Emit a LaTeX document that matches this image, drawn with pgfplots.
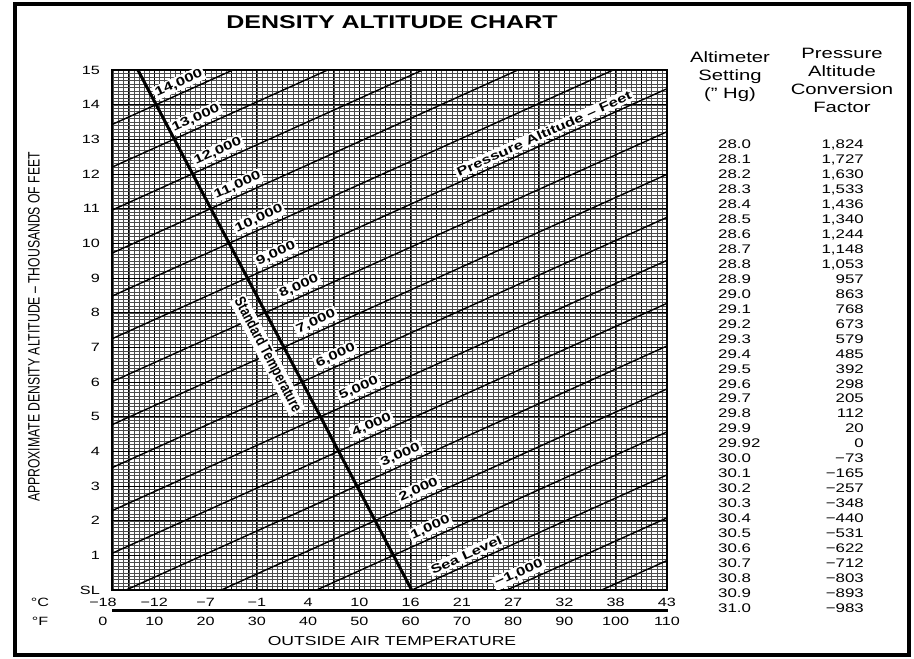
\documentclass[border=0pt]{standalone}
\usepackage{pgfplots}
\pgfplotsset{compat=1.18}
\usepackage{graphicx}
\usepackage{fontspec}
\setmainfont{Liberation Sans}[FakeStretch=1.35]
\newfontfamily\plainsans{Liberation Sans}
\tikzset{
  lbl/.style={sloped, above=2.5pt, fill=white, inner sep=1.8pt, font=\bfseries\fontsize{12.3}{13}\selectfont},
  pal/.style={black, line width=1.4pt},
}
\begin{document}
\begin{tikzpicture}[x=1pt,y=1pt]
\path[use as bounding box] (0,0) rectangle (914,659);
\draw[line width=4pt] (15,4) rectangle (909,655);
\node[font=\bfseries\fontsize{18.5}{20}\selectfont] at (392,637) {DENSITY ALTITUDE CHART};
\begin{axis}[
  at={(112pt,69pt)}, anchor=south west, scale only axis,
  width=555pt, height=520pt,
  xmin=1.75, xmax=110, ymin=0, ymax=15,
  xtick={5,10,...,105}, xticklabels={},
  minor xtick={2,3,...,109},
  ytick={0,1,...,15},
  yticklabels={SL,1,2,3,4,5,6,7,8,9,10,11,12,13,14,15},
  minor ytick={0.1,0.2,...,14.95},
  grid=both,
  major grid style={black,line width=0.75pt},
  minor grid style={black!70,line width=0.25pt},
  axis line style={line width=1.3pt},
  major tick length=0pt, minor tick length=0pt,
  yticklabel style={font=\fontsize{12}{14}\selectfont, anchor=east, inner sep=0pt, xshift=-12pt},
  clip mode=individual,
]
\addplot[pal, no marks] coordinates {(0,-6.49) (110,0.85)};
\addplot[pal, no marks] coordinates {(0,-5.25) (110,2.08)} node[lbl,pos=0.745] {−1,000};
\addplot[pal, no marks] coordinates {(0,-4.02) (110,3.32)} node[lbl,pos=0.651] {Sea Level};
\addplot[pal, no marks] coordinates {(0,-2.78) (110,4.56)} node[lbl,pos=0.588] {1,000};
\addplot[pal, no marks] coordinates {(0,-1.54) (110,5.80)} node[lbl,pos=0.567] {2,000};
\addplot[pal, no marks] coordinates {(0,-0.30) (110,7.04)} node[lbl,pos=0.535] {3,000};
\addplot[pal, no marks] coordinates {(0,0.94) (110,8.27)} node[lbl,pos=0.484] {4,000};
\addplot[pal, no marks] coordinates {(0,2.17) (110,9.51)} node[lbl,pos=0.461] {5,000};
\addplot[pal, no marks] coordinates {(0,3.41) (110,10.75)} node[lbl,pos=0.420] {6,000};
\addplot[pal, no marks] coordinates {(0,4.65) (110,11.99)} node[lbl,pos=0.385] {7,000};
\addplot[pal, no marks] coordinates {(0,5.89) (110,13.22)} node[lbl,pos=0.355] {8,000};
\addplot[pal, no marks] coordinates {(0,7.13) (110,14.46)} node[lbl,pos=0.314] {9,000}
  node[lbl,pos=0.789] {Pressure Altitude – Feet};
\addplot[pal, no marks] coordinates {(0,8.36) (110,15.70)} node[lbl,pos=0.284] {10,000};
\addplot[pal, no marks] coordinates {(0,9.60) (110,16.94)} node[lbl,pos=0.246] {11,000};
\addplot[pal, no marks] coordinates {(0,10.84) (110,18.18)} node[lbl,pos=0.211] {12,000};
\addplot[pal, no marks] coordinates {(0,12.08) (110,19.41)} node[lbl,pos=0.172] {13,000};
\addplot[pal, no marks] coordinates {(0,13.31) (110,20.65)} node[lbl,pos=0.142] {14,000};
\addplot[black, line width=3pt, no marks] coordinates {(6.8,15) (60.2,0)}
  node[pos=0.532, sloped, below=8pt, fill=white, inner sep=1.5pt] {\scalebox{1}[1.3]{\plainsans\bfseries\fontsize{12}{13}\selectfont Standard Temperature}};
\end{axis}
% x tick rows
\foreach \c/\f [count=\i from 0] in {−18/0,−12/10,−7/20,−1/30,4/40,10/50,16/60,21/70,27/80,32/90,38/100,43/110}{
  \node[font=\fontsize{12}{14}\selectfont] at ({103+51.27*\i},57) {\c};
  \node[font=\fontsize{12}{14}\selectfont] at ({103+51.27*\i},38) {\f};
}
\draw[line width=3pt] (112,48) -- (668,48);
\node[font=\fontsize{12}{14}\selectfont] at (40,57) {°C};
\node[font=\fontsize{12}{14}\selectfont] at (40,38) {°F};
\node[font=\fontsize{13}{14}\selectfont] at (392,18) {OUTSIDE AIR TEMPERATURE};
\node[rotate=90] at (34,332) {\scalebox{1}[1.35]{\plainsans\fontsize{12.2}{14}\selectfont APPROXIMATE DENSITY ALTITUDE – THOUSANDS OF FEET}};
% table header
\begin{scope}[every node/.style={anchor=base, font=\fontsize{15}{17}\selectfont, inner sep=0pt}]
\node at (842,600.6) {Pressure};
\node at (842,582.6) {Altitude};
\node at (842,564.6) {Conversion};
\node at (842,546.6) {Factor};
\node at (730,596.6) {Altimeter};
\node at (730,578.6) {Setting};
\node at (730,560.6) {(" Hg)};
\end{scope}
\foreach \a/\b [count=\i from 0] in {28.0/{1,824},28.1/{1,727},28.2/{1,630},28.3/{1,533},28.4/{1,436},28.5/{1,340},28.6/{1,244},28.7/{1,148},28.8/{1,053},28.9/957,29.0/863,29.1/768,29.2/673,29.3/579,29.4/485,29.5/392,29.6/298,29.7/205,29.8/112,29.9/20,29.92/0,30.0/−73,30.1/−165,30.2/−257,30.3/−348,30.4/−440,30.5/−531,30.6/−622,30.7/−712,30.8/−803,30.9/−893,31.0/−983}{
  \node[anchor=base west, inner sep=0pt, font=\fontsize{12.5}{14}\selectfont] at (718,{510.5-14.97*\i}) {\a};
  \node[anchor=base east, inner sep=0pt, font=\fontsize{12.5}{14}\selectfont] at (864,{510.5-14.97*\i}) {\b};
}
\end{tikzpicture}
\end{document}
